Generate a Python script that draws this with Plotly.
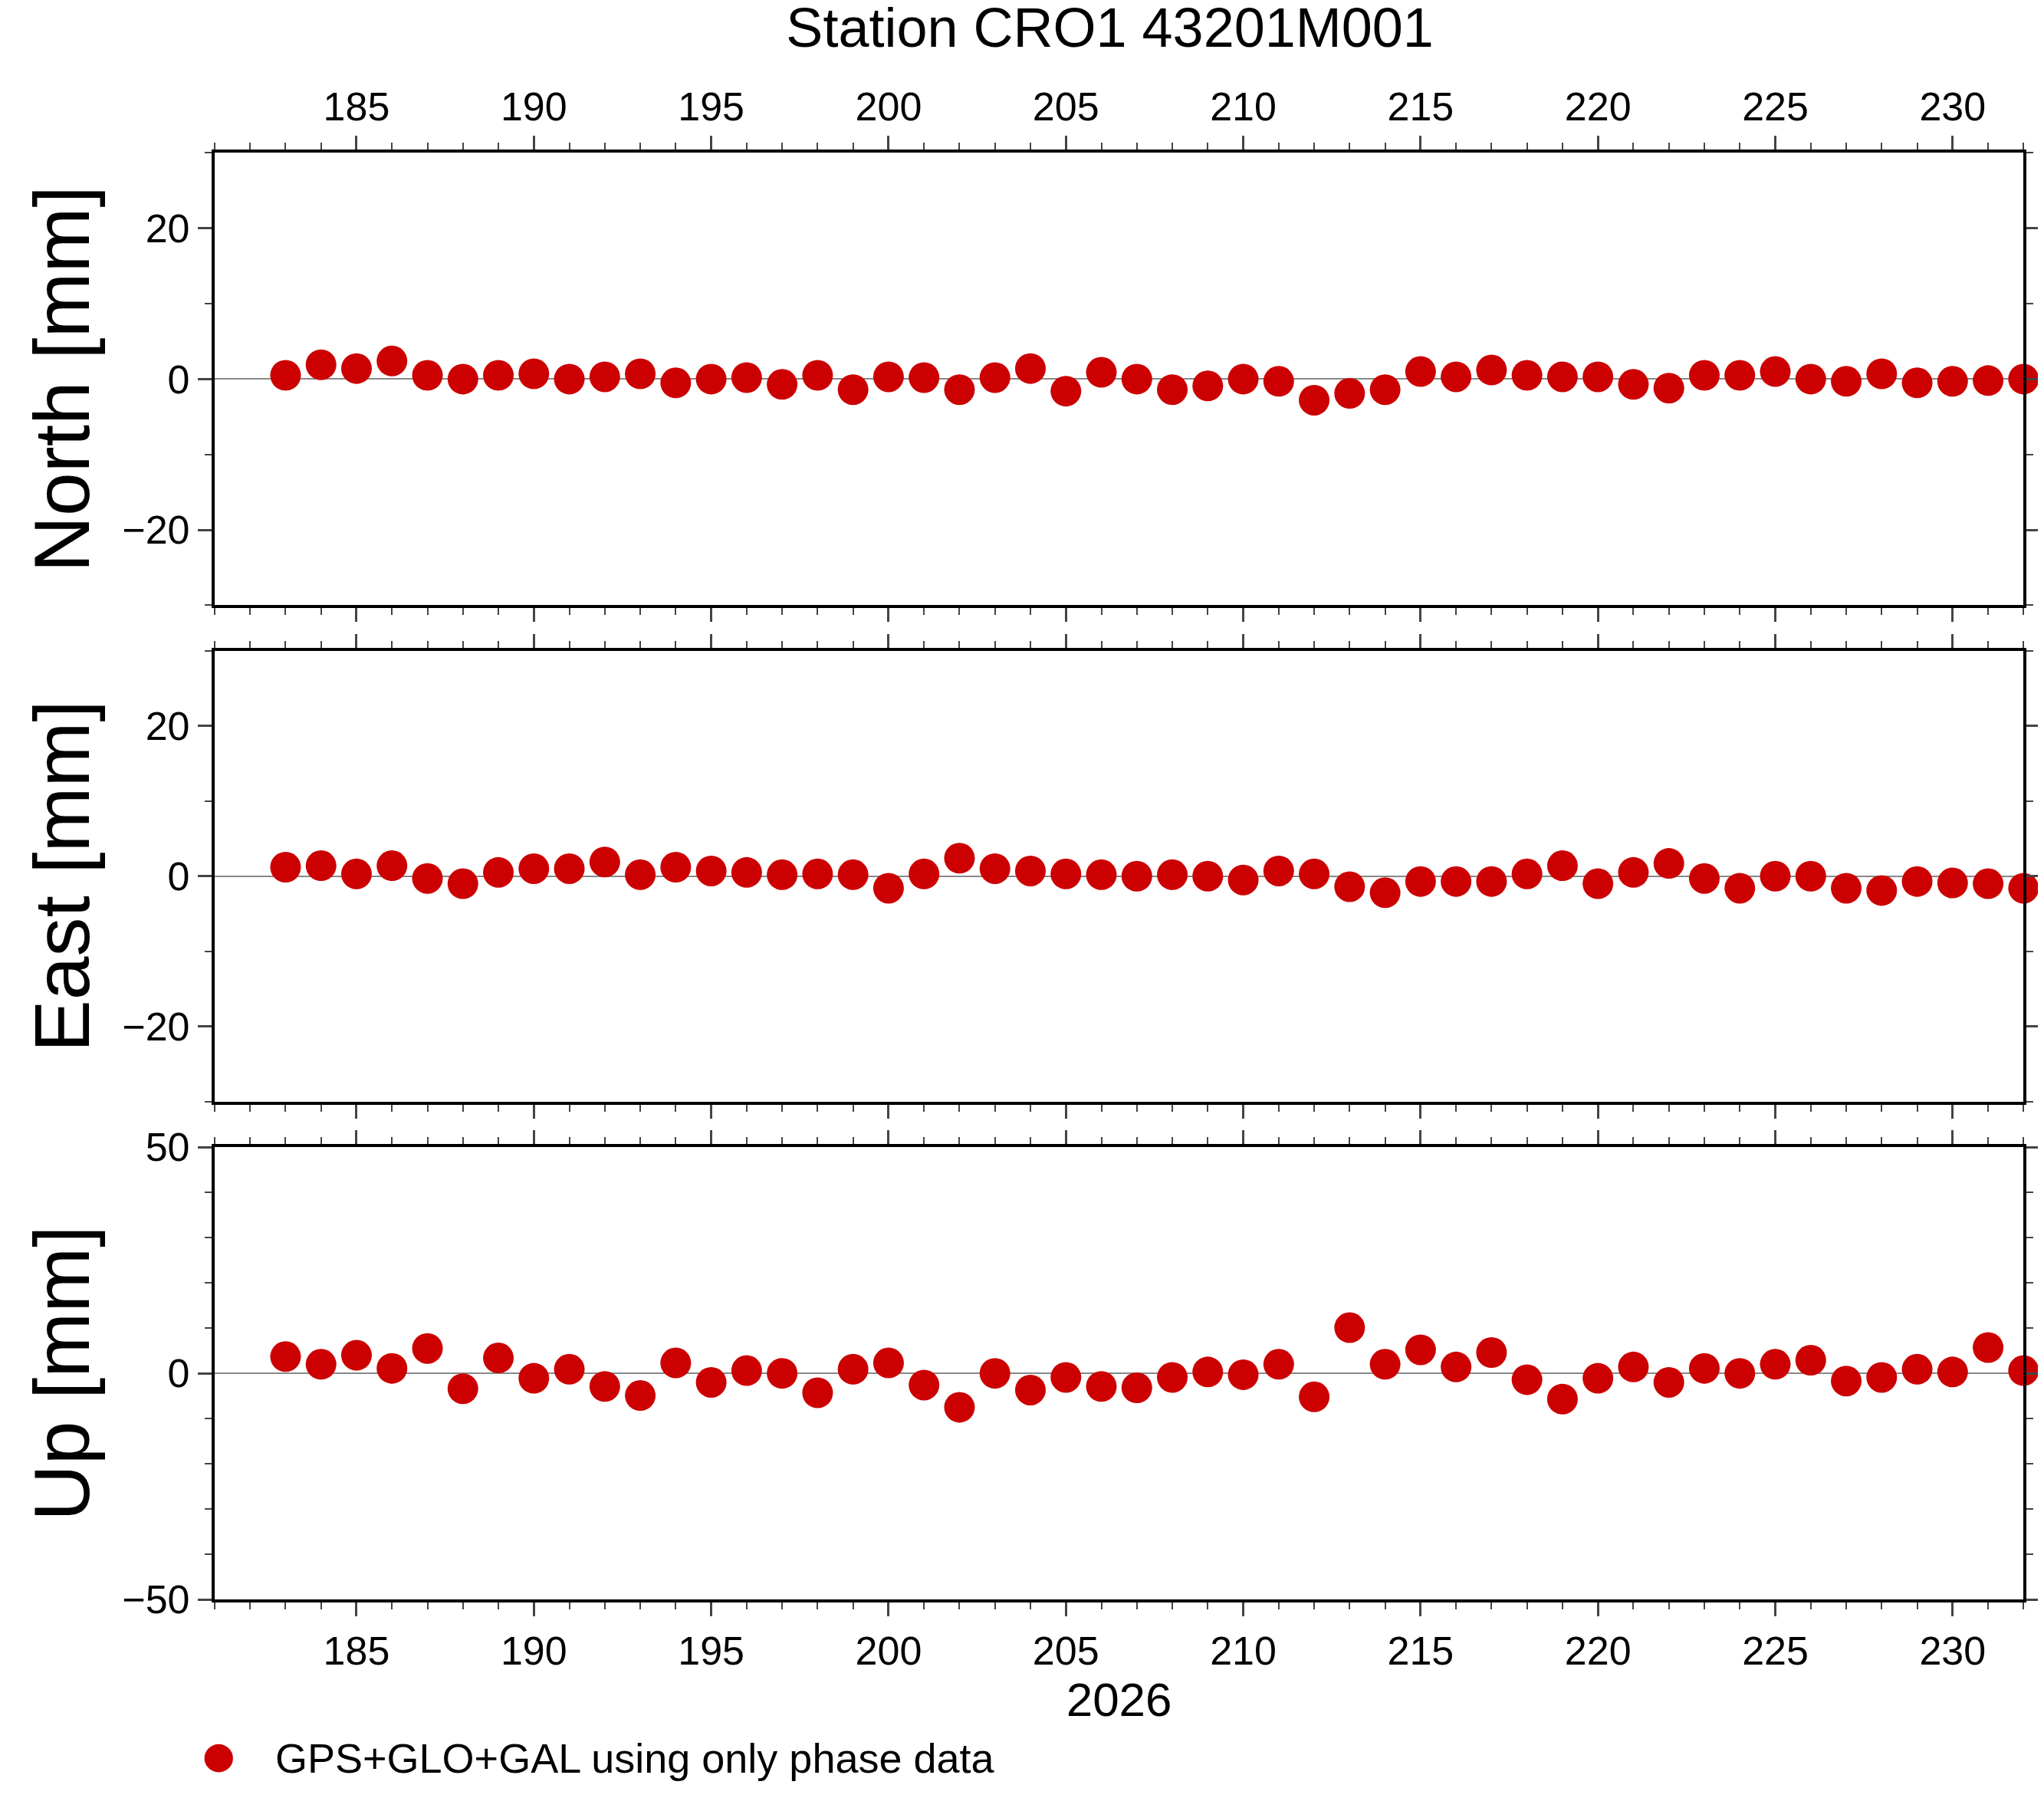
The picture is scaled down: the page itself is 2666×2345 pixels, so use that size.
import plotly.graph_objects as go

days = list(range(183, 233))
north = [0.5, 1.9, 1.4, 2.4, 0.5, 0.0, 0.5, 0.7, 0.0, 0.3, 0.7, -0.5, 0.0, 0.2, -0.7, 0.5, -1.4, 0.3, 0.2, -1.4,
         0.2, 1.4, -1.6, 0.9, 0.0, -1.4, -0.9, 0.0, -0.3, -2.8, -1.9, -1.4, 1.0, 0.3, 1.2, 0.5, 0.3, 0.3, -0.7, -1.2,
         0.5, 0.5, 1.0, 0.0, -0.3, 0.7, -0.5, -0.3, -0.2, 0.0]
east = [1.2, 1.4, 0.3, 1.4, -0.3, -1.0, 0.5, 1.0, 1.0, 1.9, 0.2, 1.2, 0.7, 0.5, 0.2, 0.3, 0.2, -1.6, 0.3, 2.4,
        1.0, 0.7, 0.3, 0.2, 0.0, 0.2, 0.0, -0.5, 0.7, 0.3, -1.4, -2.2, -0.7, -0.7, -0.7, 0.3, 1.4, -1.0, 0.5, 1.7,
        -0.3, -1.6, 0.0, 0.0, -1.6, -1.9, -0.7, -0.9, -1.0, -1.6]
up = [3.7, 2.0, 4.0, 1.1, 5.5, -3.4, 3.4, -1.1, 0.9, -2.9, -4.9, 2.3, -2.0, 0.6, 0.0, -4.3, 0.9, 2.3, -2.6, -7.5,
      0.0, -3.7, -0.9, -2.9, -3.2, -0.9, 0.3, -0.3, 2.0, -5.2, 10.1, 2.0, 5.2, 1.4, 4.6, -1.4, -5.7, -1.1, 1.4, -2.0,
      1.1, 0.0, 2.0, 2.9, -1.7, -0.9, 0.9, 0.3, 5.7, 0.6]

panels = [("North [mm]", north, 30, 20, 10), ("East [mm]", east, 30, 20, 10), ("Up [mm]", up, 50, 50, 10)]
domains = [[0.671, 0.929], [0.388, 0.645], [0.104, 0.362]]
red = "#cc0000"
font = "Liberation Sans, Arial, sans-serif"
legend_text = "GPS+GLO+GAL using only phase data"

fig = go.Figure()
layout = {}
for i, (name, vals, lim, dmaj, dmin) in enumerate(panels):
    n = "" if i == 0 else str(i + 1)
    fig.add_trace(go.Scatter(x=days, y=vals, mode="markers", xaxis="x" + n, yaxis="y" + n,
                             marker=dict(color=red, size=40), cliponaxis=False,
                             name=legend_text, showlegend=False))
    side = "top" if i == 0 else "bottom"
    layout["xaxis" + n] = dict(domain=[0.102, 0.987], range=[181, 232], anchor="y" + n,
                               side=side, showticklabels=(i != 1), tick0=185, dtick=5,
                               ticks="outside", ticklen=18, tickwidth=3, showgrid=False, zeroline=False,
                               showline=True, linewidth=4, linecolor="black", mirror="allticks",
                               minor=dict(dtick=1, ticks="outside", ticklen=9, tickwidth=2),
                               tickfont=dict(size=52, color="black"))
    layout["yaxis" + n] = dict(domain=domains[i], range=[-lim, lim], anchor="x" + n,
                               dtick=dmaj, ticks="outside", ticklen=18, tickwidth=3,
                               showgrid=False, zeroline=True, zerolinecolor="#888888", zerolinewidth=2,
                               showline=True, linewidth=4, linecolor="black", mirror="allticks",
                               minor=dict(dtick=dmin, ticks="outside", ticklen=9, tickwidth=2),
                               tickfont=dict(size=52, color="black"),
                               title=dict(text=name, font=dict(size=102, color="black"), standoff=10))
layout["xaxis3"]["title"] = dict(text="2026", font=dict(size=62, color="black"), standoff=12)

fig.update_layout(**layout)
# legend drawn by hand so the marker keeps its real size
fig.add_shape(type="circle", xref="paper", yref="paper", x0=0.097, x1=0.111, y0=0.0055, y1=0.0215,
              fillcolor=red, line=dict(width=0))
fig.add_annotation(text=legend_text, xref="paper", yref="paper", x=0.131, y=0.0135, xanchor="left",
                   yanchor="middle", showarrow=False, font=dict(size=54, color="black"))
fig.update_layout(width=2666, height=2345, plot_bgcolor="white", paper_bgcolor="white",
                  font=dict(family=font, color="black"), showlegend=False,
                  margin=dict(l=0, r=0, t=0, b=0),
                  title=dict(text="Station CRO1 43201M001", x=0.54, xanchor="center", y=0.999, yanchor="top",
                             font=dict(size=72, color="black")))
fig.write_html("out.html")
